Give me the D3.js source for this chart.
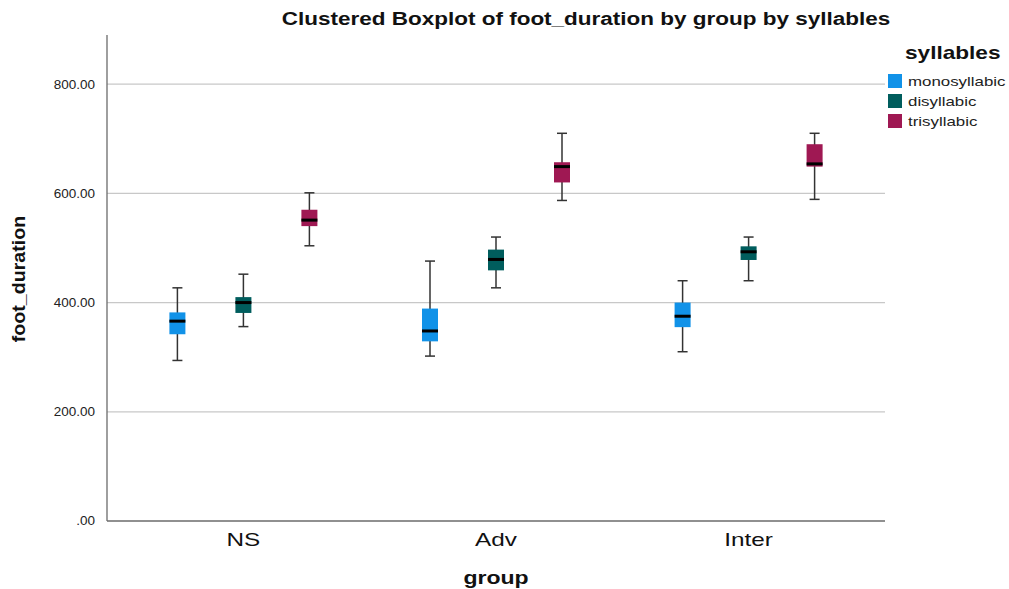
<!DOCTYPE html>
<html>
<head>
<meta charset="utf-8">
<script src="https://cdn.jsdelivr.net/npm/d3@7"></script>
<style>
  body { margin: 0; background: #fff; }
  text { font-family: "Liberation Sans", Arial, sans-serif; }
</style>
</head>
<body>
<svg id="chart" width="1009" height="589"></svg>
<script>
// groups on the x axis and the clustered series
var groups = ["NS", "Adv", "Inter"];
var syllables = ["monosyllabic", "disyllabic", "trisyllabic"];
var colors = ["#1192e8", "#005d5d", "#9f1853"];
var yTicks = [0, 200, 400, 600, 800];

// five-number summaries per group, in syllables order: [min, q1, median, q3, max]
var nsStats = [[294, 342, 366, 382, 427], [356, 381, 400, 410, 452], [504, 540, 551, 570, 601]];
var advStats = [[302, 329, 348, 389, 476], [427, 459, 479, 497, 520], [587, 620, 649, 657, 710]];
var interStats = [[310, 355, 375, 400, 440], [440, 478, 493, 503, 520], [589, 649, 654, 690, 710]];
var allStats = [nsStats, advStats, interStats];

var svg = d3.select("#chart");
var margin = { top: 35, right: 124, bottom: 68, left: 107 };
var width = 1009 - margin.left - margin.right;
var height = 589 - margin.top - margin.bottom;

var x = d3.scalePoint().domain(groups).range([0, width]).padding(0.54);
var xInner = d3.scalePoint().domain(syllables).range([-66, 66]);
var y = d3.scaleLinear().domain([0, 890]).range([height, 0]);
var boxW = 16, capW = 10;

// the original output is stretched sideways, so texts get a horizontal scale
function label(parent, tx, ty, sx, str) {
  return parent.append("text")
    .attr("transform", "translate(" + tx + "," + ty + ") scale(" + sx + ",1)")
    .text(str);
}

var g = svg.append("g").attr("transform", "translate(" + margin.left + "," + margin.top + ")");

// gridlines
g.selectAll(".grid").data(yTicks.filter(function(d){ return d > 0; })).enter()
  .append("line")
  .attr("x1", 0).attr("x2", width)
  .attr("y1", function(d){ return y(d); }).attr("y2", function(d){ return y(d); })
  .attr("stroke", "#c8c8c8").attr("stroke-width", 1.3);

// y axis
g.append("line").attr("x1", 0).attr("x2", 0).attr("y1", 0).attr("y2", height)
  .attr("stroke", "#6b6b6b").attr("stroke-width", 1.3);
yTicks.forEach(function(d){
  label(g, -12, y(d), 1.08, d === 0 ? ".00" : d3.format(".2f")(d))
    .attr("text-anchor", "end").attr("dy", "0.35em")
    .attr("font-size", 12.5).attr("fill", "#222");
});

// x axis
g.append("line").attr("x1", 0).attr("x2", width).attr("y1", height).attr("y2", height)
  .attr("stroke", "#6b6b6b").attr("stroke-width", 1.3);
groups.forEach(function(grp){
  label(g, x(grp), height + 25, 1.28, grp)
    .attr("text-anchor", "middle").attr("font-size", 19).attr("fill", "#111");
});

// boxes
groups.forEach(function(grp, gi){
  syllables.forEach(function(syl, si){
    var s = allStats[gi][si];
    var cx = x(grp) + xInner(syl);
    var b = g.append("g");
    b.append("line").attr("x1", cx).attr("x2", cx).attr("y1", y(s[0])).attr("y2", y(s[4]))
      .attr("stroke", "#333").attr("stroke-width", 1.5);
    [s[0], s[4]].forEach(function(v){
      b.append("line").attr("x1", cx - capW / 2).attr("x2", cx + capW / 2)
        .attr("y1", y(v)).attr("y2", y(v)).attr("stroke", "#333").attr("stroke-width", 1.5);
    });
    b.append("rect").attr("x", cx - boxW / 2).attr("width", boxW)
      .attr("y", y(s[3])).attr("height", y(s[1]) - y(s[3]))
      .attr("fill", colors[si]);
    b.append("line").attr("x1", cx - boxW / 2).attr("x2", cx + boxW / 2)
      .attr("y1", y(s[2])).attr("y2", y(s[2])).attr("stroke", "#000").attr("stroke-width", 3);
  });
});

// titles
label(svg, 586, 25, 1.25, "Clustered Boxplot of foot_duration by group by syllables")
  .attr("text-anchor", "middle").attr("font-size", 18).attr("font-weight", "bold").attr("fill", "#111");
label(svg, margin.left + x("Adv"), 584, 1.28, "group")
  .attr("text-anchor", "middle").attr("font-size", 18).attr("font-weight", "bold").attr("fill", "#111");
svg.append("text").attr("transform", "translate(25,279) rotate(-90) scale(1.09,1)")
  .attr("text-anchor", "middle").attr("font-size", 18).attr("font-weight", "bold").attr("fill", "#111")
  .text("foot_duration");

// legend
var lg = svg.append("g").attr("transform", "translate(888,0)");
label(lg, 17, 59, 1.19, "syllables").attr("font-size", 19).attr("font-weight", "bold").attr("fill", "#111");
syllables.forEach(function(syl, i){
  lg.append("rect").attr("x", 0).attr("y", 74 + i * 20).attr("width", 14).attr("height", 14)
    .attr("fill", colors[i]);
  label(lg, 20, 86 + i * 20, 1.25, syl).attr("font-size", 13.5).attr("fill", "#222");
});
</script>
</body>
</html>
